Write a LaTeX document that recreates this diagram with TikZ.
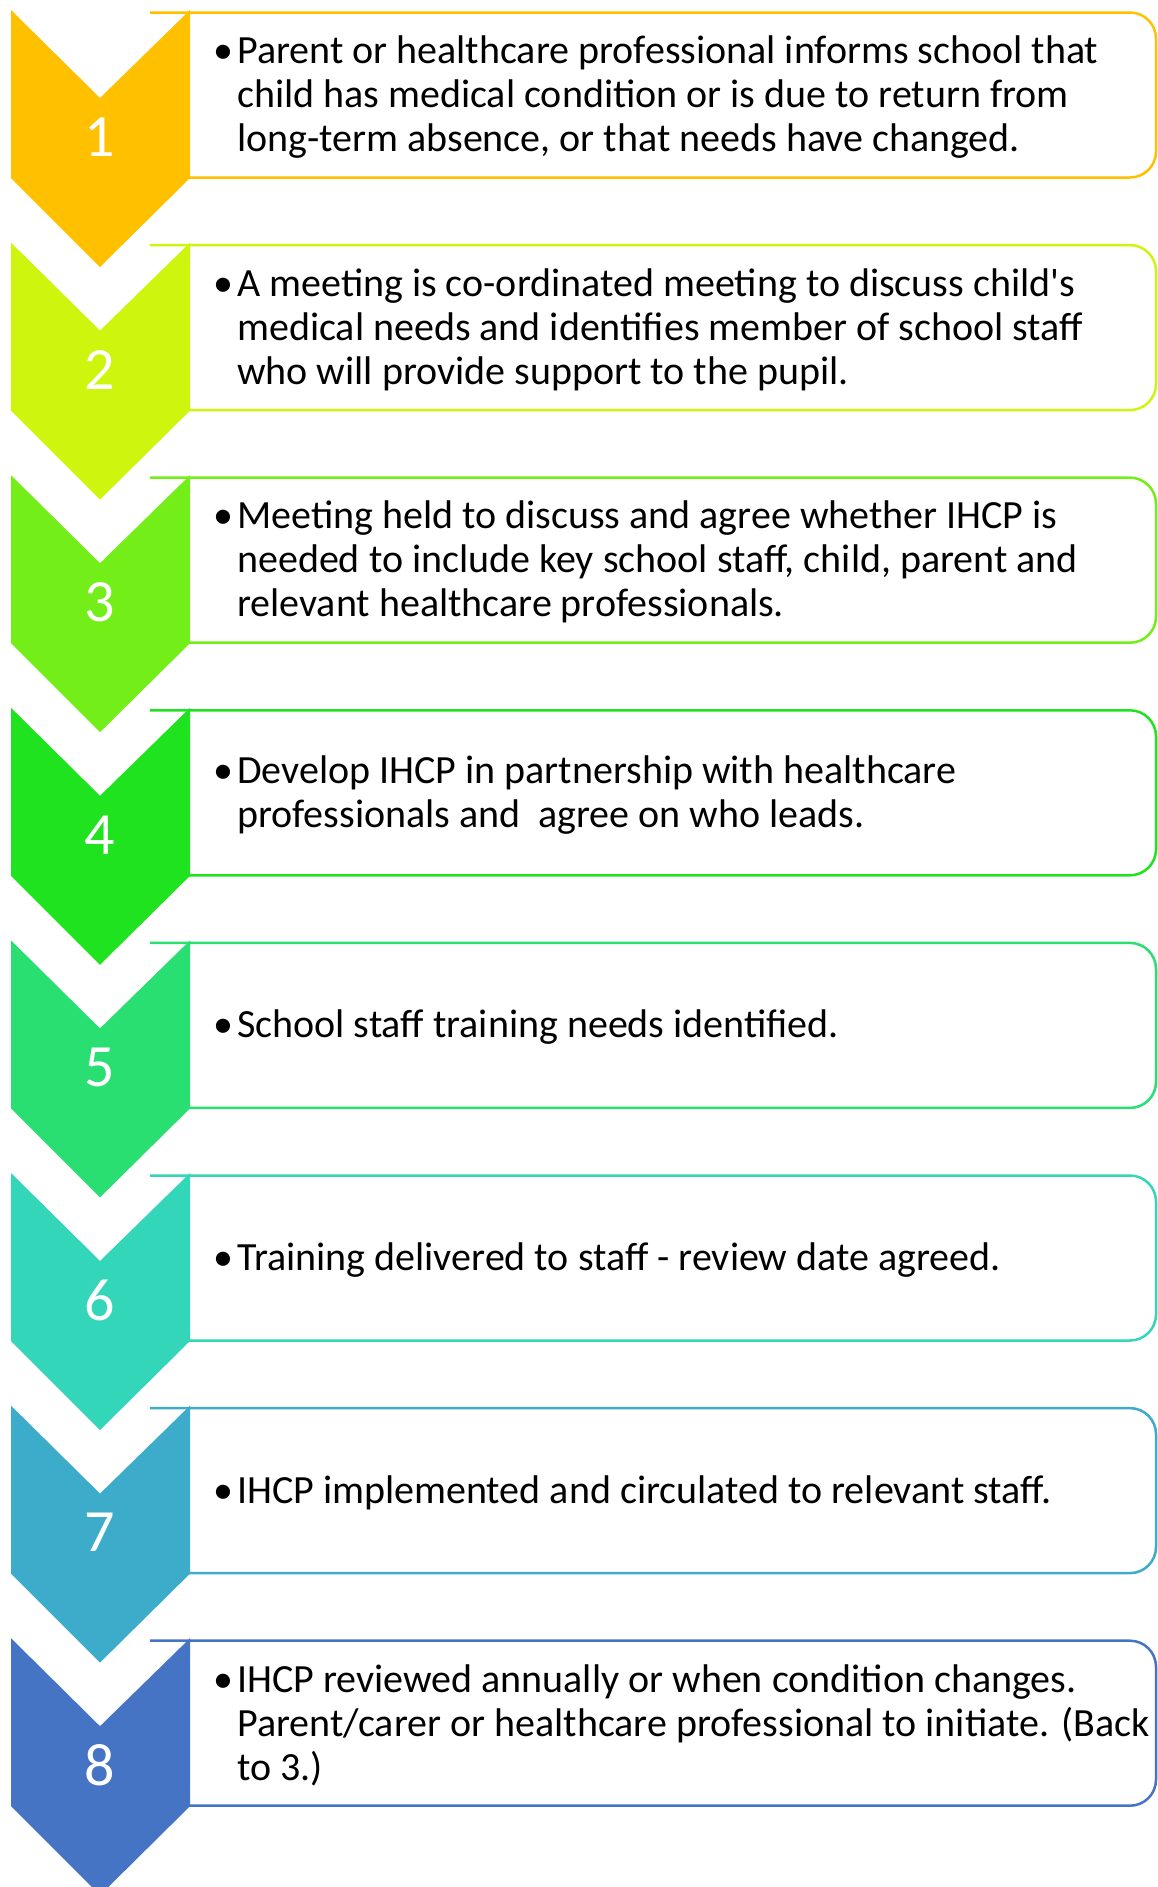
\documentclass[tikz,border=0pt]{standalone}
\usepackage{fontspec}
\setmainfont{Carlito}
\newfontfamily\straightfont{Carlito}

\definecolor{stepA}{HTML}{FFC000}
\definecolor{stepB}{HTML}{CEF50E}
\definecolor{stepC}{HTML}{74EE18}
\definecolor{stepD}{HTML}{20E320}
\definecolor{stepE}{HTML}{2ADF71}
\definecolor{stepF}{HTML}{34D6B9}
\definecolor{stepG}{HTML}{3DACCB}
\definecolor{stepH}{HTML}{4674C5}

\begin{document}
\begin{tikzpicture}[x=1pt,y=-1pt,
    stepbox/.style={line width=2.5pt, fill=white, rounded corners=26pt},
    chevron/.style={draw=none},
    stepnum/.style={inner sep=0, text=white, font=\fontsize{60}{60}\selectfont},
    steptext/.style={inner sep=0, anchor=west, font=\fontsize{40}{44}\selectfont}]
    \useasboundingbox (0,0) rectangle (1157,1887);

    \foreach \n/\col/\txt in {
        1/stepA/{Parent or healthcare professional informs school that\\child has medical condition or is due to return from\\long-term absence, or that needs have changed.},
        2/stepB/{A meeting is co-ordinated meeting to discuss child{\straightfont'}s\\medical needs and identifies member of school staff\\who will provide support to the pupil.},
        3/stepC/{Meeting held to discuss and agree whether IHCP is\\needed to include key school staff, child, parent and\\relevant healthcare professionals.},
        4/stepD/{Develop IHCP in partnership with healthcare\\professionals and~ agree on who leads.},
        5/stepE/{School staff training needs identified.},
        6/stepF/{Training delivered to staff - review date agreed.},
        7/stepG/{IHCP implemented and circulated to relevant staff.},
        8/stepH/{IHCP reviewed annually or when condition changes.\\Parent/carer or healthcare professional to initiate. (Back\\to 3.)}}
    {
        \pgfmathsetmacro\top{10+(\n-1)*232.6}
        % box on the right
        \draw[stepbox, draw=\col] (150,{\top+2.5})--(1156,{\top+2.5})--(1156,{\top+167.5})--(150,{\top+167.5});
        % chevron on the left
        \fill[chevron, \col] (11,\top)--(100,{\top+88})--(190,\top)--(190,{\top+168})--(100,{\top+257})--(11,{\top+168})--cycle;
        \node[stepnum] (num\n) at (100,{\top+127}) {\n};
        \node[steptext] (txt\n) at (213,{\top+87}) {\makebox[24pt][l]{\textbullet}\parbox[t]{935pt}{\raggedright\txt}};
    }
\end{tikzpicture}
\end{document}
